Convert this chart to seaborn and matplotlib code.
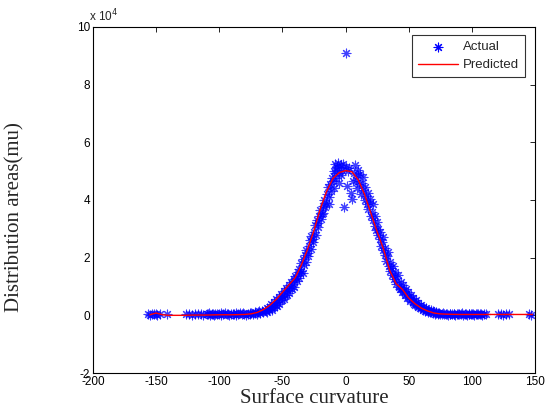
import matplotlib
matplotlib.use("Agg")
import matplotlib.pyplot as plt
import seaborn as sns
import pandas as pd
from matplotlib.ticker import FixedLocator, FuncFormatter

# ---- data ----
curvature = [-156.5, -155, -153.5, -152, -150.5, -149, -147, -141.5,
             -126, -124, -121.5, -119, -116.5, -114.5, -113,
             -110, -109, -107.5, -106, -104, -103, -101.5, -100, -98.5, -97, -95.5, -94, -92.5, -91,
             -89.5, -88, -86.5, -85, -83.5, -82, -80.5, -79, -77.5, -76, -74.5, -73, -71.5, -70, -69,
             -67.5, -66, -65, -64, -63, -62, -61, -60, -59, -58, -57, -56, -55, -54, -53, -52, -51,
             -50, -49, -48, -47, -46, -45, -44, -43, -42, -41, -40, -39, -38,
             -37, -36, -35, -34, -33, -32, -31, -30, -29, -28, -27, -26, -25, -24, -23, -22, -21,
             -20, -19, -18, -17, -16, -15, -14, -13, -12, -11, -10, -9, -8, -7, -6, -5, -4, -3, -2,
             -1, 0, 1, 2, 3, 4, 5, 6, 7, 8, 9, 10, 11, 12, 13, 14, 15, 16, 17, 18, 19, 20, 21, 22,
             23, 24, 25, 26, 27, 28, 29, 30, 31, 32, 33, 34, 35, 36, 37, 38, 39, 40, 41, 42, 43, 44,
             45, 46, 47, 48, 49, 50, 51, 52, 53, 54, 55, 56, 57, 58, 59, 60, 61, 62, 63, 64, 65, 66,
             67, 68, 69, 70, 71, 72, 73, 74, 75, 76.5, 78, 79.5, 81, 82.5, 84, 85.5, 87, 88.5, 90,
             91.5, 93, 94.5, 96, 97.5, 99, 100.5, 102, 103.5, 105, 106.5, 108, 110, 111.5,
             121, 123, 125, 127, 129.5, 145.5, 147,
             0,
             -62.5, -60.5, -58.5, -56.5, -54.5, -52.5, -50.5, -48.5, -46.5, -44.5, -42.5, -40.5,
             -38.5, -36.5, -35.5, -33.5, -31.5, -29.5, -27.5, -25.5, -23.5, -21.5, -19.5, -17.5,
             -15.5, -13.5, -11.5, -9.5, -7.5, -5.5, -3.5, -6.5, -8.5,
             7.5, 9.5, 11.5, 13.5, 15.5, 17.5, 19.5, 21.5, 23.5, 25.5, 27.5, 29.5, 31.5, 33.5, 35.5,
             37.5, 39.5, 41.5, 43.5, 45.5, 47.5, 49.5, 51.5, 53.5, 55.5, 57.5, 59.5, 61.5, 63.5,
             65.5, 67.5, 69.5, 71.5, 73.5,
             -108.5, -105, -99, -93, -87, -81, -75.5, -72, -68.5,
             77, 80, 83, 86, 89, 92, 95, 98, 101, 104, 107]
area = [400, 200, 500, 300, 600, 200, 400, 300,
        300, 500, 200, 400, 300, 500, 200,
        300, 600, 200, 400, 100, 500, 300, 600, 200, 400, 700, 300, 100, 500,
        300, 600, 200, 400, 700, 300, 500, 200, 600, 400, 800, 300, 900, 500, 1200,
        800, 1500, 1100, 2000, 1400, 2500, 1900, 3000, 3800, 2600, 4500, 3500, 5500, 4600, 6500, 5200, 7500,
        6800, 8600, 7200, 9500, 8800, 10500, 9600, 11500, 10800, 12500, 13500, 12800, 15000,
        16000, 14800, 18000, 19500, 17500, 21000, 22500, 20500, 24000, 26000, 27500, 25500, 29000, 31500, 33000, 30500, 34500,
        36500, 35000, 38000, 40000, 37500, 42000, 44500, 41000, 45500, 47500, 46500, 50000, 52500, 51500, 53000, 49500, 52000, 50500, 52500,
        37500, 51500, 45000, 50000, 51000, 42500, 40500, 46500, 49500, 47000, 44000, 48500, 45500, 42000, 46000, 43500, 40000, 41500, 38500, 37000, 39000, 34500, 36000, 33000,
        31000, 29500, 32500, 28000, 26500, 24000, 25500, 22500, 21000, 19000, 20500, 17000, 15500, 16500, 14000, 12500, 13500, 11000, 12000, 10000, 9000, 9500,
        8000, 8500, 7000, 7500, 6000, 6500, 5000, 5500, 4500, 4000, 3500, 4200, 3000, 3300, 2500, 2800, 2000, 2300, 1600, 1900, 1300, 1500,
        1000, 1200, 800, 1000, 600, 800, 500, 700, 400, 600, 300, 500, 200, 400, 600, 300, 100, 500, 300,
        600, 200, 400, 100, 500, 300, 600, 200, 400, 300, 500, 200, 400, 300,
        300, 500, 200, 400, 300, 400, 200,
        91000,
        1200, 2200, 1800, 2800, 3200, 4000, 5200, 5800, 7000, 7800, 9000, 10000,
        11800, 13000, 15500, 14800, 18500, 21500, 23000, 26500, 28000, 32000, 33500, 35500,
        39000, 38500, 43000, 44000, 47500, 46000, 48500, 51000, 49500,
        52000, 50500, 49000, 48000, 44500, 42500, 40500, 38500, 34500, 30000, 29000, 27000, 23500, 22000, 18500,
        17000, 15000, 14000, 11500, 10500, 9000, 8000, 7000, 6000, 5200, 4200, 3600, 3000, 2600,
        2000, 1700, 1400, 1100, 900,
        700, 600, 700, 600, 700, 800, 900, 1000, 1400,
        700, 600, 500, 600, 500, 700, 500, 600, 400, 500, 400]

fit_x = [-155, -150, -145, -140, -130, -120, -110, -100, -90, -80, -75, -70, -65, -60, -55, -50,
         -45, -40, -35, -30, -25, -20, -15, -10, -5, 0, 5, 10, 15, 20, 25, 30, 35, 40, 45, 50,
         55, 60, 65, 70, 75, 80, 90, 100, 110, 120, 130, 140, 148]
fit_y = [200, 800, 200, 0, 0, 100, 100, 200, 200, 300, 500, 1000, 2000, 3500, 5500, 8000,
         10500, 13000, 17500, 23000, 29500, 37000, 43000, 47500, 49500, 50200, 49800, 47000, 42000, 35500, 29000, 23000, 15500, 11000, 9000, 6000,
         4000, 2500, 1500, 800, 500, 400, 300, 300, 300, 300, 300, 300, 300]

x_ticks = [-200, -150, -100, -50, 0, 50, 100, 150]
y_ticks = [-20000, 0, 20000, 40000, 60000, 80000, 100000]

scatter_df = pd.DataFrame({"curvature": curvature, "area": area})
fit_df = pd.DataFrame({"curvature": fit_x, "area": fit_y})

sns.set_style("white")
plt.rcParams["font.family"] = ["Liberation Sans", "DejaVu Sans"]
plt.rcParams["axes.unicode_minus"] = False

fig = plt.figure(figsize=(5.47, 4.17), dpi=100)
ax = fig.add_axes([93/547, 1 - 373/417, 442/547, 346/417])

sns.scatterplot(data=scatter_df, x="curvature", y="area", ax=ax, marker=(8, 2, 0),
                color="#0000ff", s=40, linewidth=0.8, edgecolor="#0000ff", alpha=0.75,
                label="Actual", zorder=2)
sns.lineplot(data=fit_df, x="curvature", y="area", ax=ax, color="#ff0000", linewidth=1.0,
             label="Predicted", zorder=3)

ax.set_xlim(-200, 150)
ax.set_ylim(-20000, 100000)
ax.xaxis.set_major_locator(FixedLocator(x_ticks))
ax.yaxis.set_major_locator(FixedLocator(y_ticks))
ax.yaxis.set_major_formatter(FuncFormatter(lambda v, p: f"{v/1e4:g}"))
ax.tick_params(direction="in", length=3.5, width=0.6, labelsize=8.5, top=True, right=True,
               colors="black", pad=2)
for sp in ax.spines.values():
    sp.set_color("black")
    sp.set_linewidth(0.8)

ax.set_xlabel("Surface curvature", family=["Liberation Serif", "DejaVu Serif"], fontsize=15, labelpad=1)
ax.set_ylabel("Distribution areas(mu)", family=["Liberation Serif", "DejaVu Serif"], fontsize=15)
ax.yaxis.set_label_coords(-0.154, 0.45)

fig.text(89/547, 1 - 21/417, "x 10$^4$", fontsize=8.5, ha="left", va="baseline")

leg = ax.legend(loc="upper right", bbox_to_anchor=(0.986, 0.988), frameon=True, fancybox=False,
                edgecolor="black", fontsize=9.5, handlelength=3.0, handletextpad=0.4,
                borderpad=0.45, labelspacing=0.45, borderaxespad=0.3)
leg.get_frame().set_linewidth(0.8)
leg.legend_handles[0].set_alpha(1)

fig.savefig("out.png", dpi=100)
